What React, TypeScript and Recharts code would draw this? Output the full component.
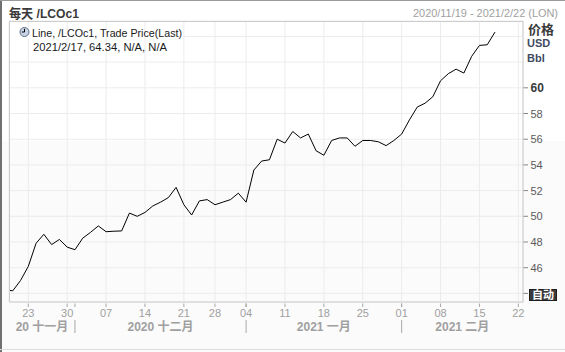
import React from 'react';
import { ComposedChart, Line, XAxis, YAxis, CartesianGrid } from 'recharts';

// ---- data ----
const tradingDays = [
  '2020-11-18', '2020-11-19', '2020-11-20', '2020-11-23', '2020-11-24', '2020-11-25', '2020-11-26', '2020-11-27', '2020-11-30',
  '2020-12-01', '2020-12-02', '2020-12-03', '2020-12-04', '2020-12-07', '2020-12-08', '2020-12-09', '2020-12-10', '2020-12-11',
  '2020-12-14', '2020-12-15', '2020-12-16', '2020-12-17', '2020-12-18', '2020-12-21', '2020-12-22', '2020-12-23', '2020-12-24',
  '2020-12-28', '2020-12-29', '2020-12-30', '2020-12-31',
  '2021-01-04', '2021-01-05', '2021-01-06', '2021-01-07', '2021-01-08', '2021-01-11', '2021-01-12', '2021-01-13', '2021-01-14',
  '2021-01-15', '2021-01-18', '2021-01-19', '2021-01-20', '2021-01-21', '2021-01-22', '2021-01-25', '2021-01-26', '2021-01-27',
  '2021-01-28', '2021-01-29',
  '2021-02-01', '2021-02-02', '2021-02-03', '2021-02-04', '2021-02-05', '2021-02-08', '2021-02-09', '2021-02-10', '2021-02-11',
  '2021-02-12', '2021-02-15', '2021-02-16', '2021-02-17', '2021-02-18', '2021-02-19', '2021-02-22',
];

const prices = [
  44.3, 44.2, 45.0, 46.1, 47.9, 48.6, 47.8, 48.2, 47.6,
  47.4, 48.3, 48.75, 49.25, 48.8, 48.84, 48.86, 50.25, 50.0,
  50.3, 50.8, 51.1, 51.45, 52.25, 50.9, 50.1, 51.2, 51.3,
  50.9, 51.1, 51.3, 51.8,
  51.1, 53.6, 54.3, 54.4, 56.0, 55.7, 56.6, 56.1, 56.4,
  55.1, 54.75, 55.9, 56.1, 56.1, 55.45, 55.9, 55.9, 55.8,
  55.5, 55.9,
  56.4, 57.5, 58.5, 58.8, 59.3, 60.55, 61.1, 61.45, 61.15,
  62.45, 63.3, 63.35, 64.34,
];

const weekTickDays = [
  '2020-11-23', '2020-11-30', '2020-12-07', '2020-12-14', '2020-12-21', '2020-12-28', '2021-01-04',
  '2021-01-11', '2021-01-18', '2021-01-25', '2021-02-01', '2021-02-08', '2021-02-15', '2021-02-22',
];
const monthStartDays = ['2020-12-01', '2021-01-04', '2021-02-01'];
const monthLabels = ['20 十一月', '2020 十二月', '2021 一月', '2021 二月'];

const yTicks = [44, 46, 48, 50, 52, 54, 56, 58, 60, 62, 64];
const yLabelTicks = [46, 48, 50, 52, 54, 56, 58, 60];
const yTickMarks = [44, 46, 48, 50, 52, 54, 56, 58, 60];
const yBoldTick = 60;

const titleText = '每天 /LCOc1';
const rangeText = '2020/11/19 - 2021/2/22 (LON)';
const legendLine1 = 'Line, /LCOc1, Trade Price(Last)';
const legendLine2 = '2021/2/17, 64.34, N/A, N/A';
const unitLabels = ['价格', 'USD', 'Bbl'];
const autoLabel = '自动';

// ---- derived ----
const data = prices.map((p, i) => ({ i, price: p }));
const X_DOMAIN: [number, number] = [0.52, 66.6];
const Y_DOMAIN: [number, number] = [43.33, 65.2];

const weekTicks = weekTickDays.map((d) => tradingDays.indexOf(d));
const weekLabelMap = new Map<number, string>(weekTickDays.map((d) => [tradingDays.indexOf(d), d.slice(8)]));
const monthBounds = monthStartDays.map((d) => tradingDays.indexOf(d));
const edges = [X_DOMAIN[0], ...monthBounds, X_DOMAIN[1]];
const monthCenters = monthLabels.map((_, k) => (edges[k] + edges[k + 1]) / 2);
const monthLabelMap = new Map<number, string>(monthCenters.map((c, k) => [c, monthLabels[k]]));
const monthTicks = [...monthCenters, ...monthBounds].sort((a, b) => a - b);

const FONT = '"Liberation Sans", "Noto Sans CJK SC", sans-serif';

const MainTick = (props: any) => {
  const { x, y, payload } = props;
  const label = weekLabelMap.get(payload.value) ?? '';
  return (
    <g>
      <line x1={x} x2={x} y1={y + 1.5} y2={y + 5} stroke="#a8a8a8" strokeWidth={1} />
      <text x={x} y={y + 15} textAnchor="middle" fontSize={11} fill="#a0a0a0" fontFamily={FONT}>
        {label}
      </text>
    </g>
  );
};

const MonthTick = (props: any) => {
  const { x, y, payload } = props;
  const label = monthLabelMap.get(payload.value);
  if (label !== undefined) {
    return (
      <text x={x} y={y + 11.5} textAnchor="middle" fontSize={12} fontWeight="bold" fill="#a0a0a0" fontFamily={FONT}>
        {label}
      </text>
    );
  }
  return (
    <g>
      <line x1={x} x2={x} y1={y - 15.5} y2={y - 12} stroke="#a8a8a8" strokeWidth={1} />
      <line x1={x} x2={x} y1={y + 1} y2={y + 14} stroke="#a8a8a8" strokeWidth={1} />
    </g>
  );
};

const YTick = (props: any) => {
  const { x, y, payload } = props;
  const v = payload.value;
  const hasMark = yTickMarks.includes(v);
  const hasLabel = yLabelTicks.includes(v);
  const bold = v === yBoldTick;
  return (
    <g>
      {hasMark && <line x1={x} x2={x + 5} y1={y} y2={y} stroke="#888" strokeWidth={1} />}
      {hasLabel && (
        <text
          x={x + 7.5}
          y={y + 4}
          textAnchor="start"
          fontSize={bold ? 12 : 11}
          fontWeight={bold ? 'bold' : 'normal'}
          fill={bold ? '#3a3a3a' : '#5a5a5a'}
          fontFamily={FONT}
        >
          {v}
        </text>
      )}
    </g>
  );
};

export default function App() {
  return (
    <div
      style={{
        position: 'absolute',
        left: 0,
        top: 0,
        width: 565,
        height: 352,
        background: 'linear-gradient(to bottom, #ffffff 0px, #ffffff 141px, #fbfbfb 141px, #fbfbfb 352px)',
        overflow: 'hidden',
      }}
    >
      <div style={{ position: 'absolute', left: 0, top: 0 }}>
        <ComposedChart width={565} height={352} data={data} margin={{ top: 21, right: 0, bottom: 0, left: 9 }}>
          <CartesianGrid stroke="#ececec" strokeWidth={1} />
          <XAxis
            dataKey="i"
            type="number"
            domain={X_DOMAIN}
            allowDataOverflow
            ticks={weekTicks}
            interval={0}
            height={17}
            axisLine={false}
            tickLine={false}
            tickSize={0}
            tickMargin={0}
            tick={<MainTick />}
          />
          <XAxis
            xAxisId="month"
            dataKey="i"
            type="number"
            domain={X_DOMAIN}
            allowDataOverflow
            ticks={monthTicks}
            interval={0}
            height={33}
            axisLine={false}
            tickLine={false}
            tickSize={0}
            tickMargin={0}
            tick={<MonthTick />}
          />
          <YAxis
            orientation="right"
            type="number"
            domain={Y_DOMAIN}
            allowDataOverflow
            ticks={yTicks}
            interval={0}
            width={42}
            axisLine={false}
            tickLine={false}
            tickSize={0}
            tickMargin={0}
            tick={<YTick />}
          />
          <Line
            type="linear"
            dataKey="price"
            stroke="#000000"
            strokeWidth={1}
            dot={false}
            activeDot={false}
            isAnimationActive={false}
          />
        </ComposedChart>
      </div>
      <svg
        width={565}
        height={352}
        style={{ position: 'absolute', left: 0, top: 0, pointerEvents: 'none' }}
        fontFamily={FONT}
      >
        {/* outer frame */}
        <rect x={0} y={0} width={2} height={352} fill="#707070" />
        <rect x={0} y={0} width={565} height={1} fill="#9a9a9a" />
        <rect x={0} y={349} width={565} height={1} fill="#dcdcdc" />
        {/* plot border */}
        <rect x={9.5} y={21.5} width={513.5} height={280.5} fill="none" stroke="#cccccc" strokeWidth={1} />
        {/* header */}
        <text x={9} y={18} fontSize={13} fontWeight="bold" fill="#3a3a3a" textLength={70} lengthAdjust="spacingAndGlyphs">
          {titleText}
        </text>
        <text x={413} y={17} fontSize={11.5} fill="#a0a0a0" textLength={145} lengthAdjust="spacingAndGlyphs">
          {rangeText}
        </text>
        {/* legend */}
        <rect x={10} y={35} width={173} height={3} fill="#ffffff" />
        <circle cx={24.5} cy={32} r={4.5} fill="#c9d5e6" stroke="#5d6e88" strokeWidth={1} />
        <line x1={24.5} y1={32} x2={24.5} y2={28.8} stroke="#000" strokeWidth={1} />
        <line x1={24.5} y1={32} x2={21.8} y2={32} stroke="#000" strokeWidth={1} />
        <text x={32} y={37} fontSize={11.5} fill="#1a1a1a" textLength={150} lengthAdjust="spacingAndGlyphs">
          {legendLine1}
        </text>
        <text x={33} y={50.5} fontSize={11.5} fill="#1a1a1a" textLength={134} lengthAdjust="spacingAndGlyphs">
          {legendLine2}
        </text>
        {/* unit labels */}
        <text x={528} y={34} fontSize={13} fontWeight="bold" fill="#3a3a3a">
          {unitLabels[0]}
        </text>
        <text x={527} y={47} fontSize={11} fontWeight="bold" fill="#3f4b61">
          {unitLabels[1]}
        </text>
        <text x={527} y={62} fontSize={11} fontWeight="bold" fill="#3f4b61">
          {unitLabels[2]}
        </text>
        {/* auto button */}
        <rect x={529.5} y={289.5} width={27} height={11} fill="#3a3a3a" stroke="#1e1e1e" strokeWidth={1} />
        <text x={543} y={299} textAnchor="middle" fontSize={11} fill="#ffffff" fontWeight="bold">
          {autoLabel}
        </text>
      </svg>
    </div>
  );
}
